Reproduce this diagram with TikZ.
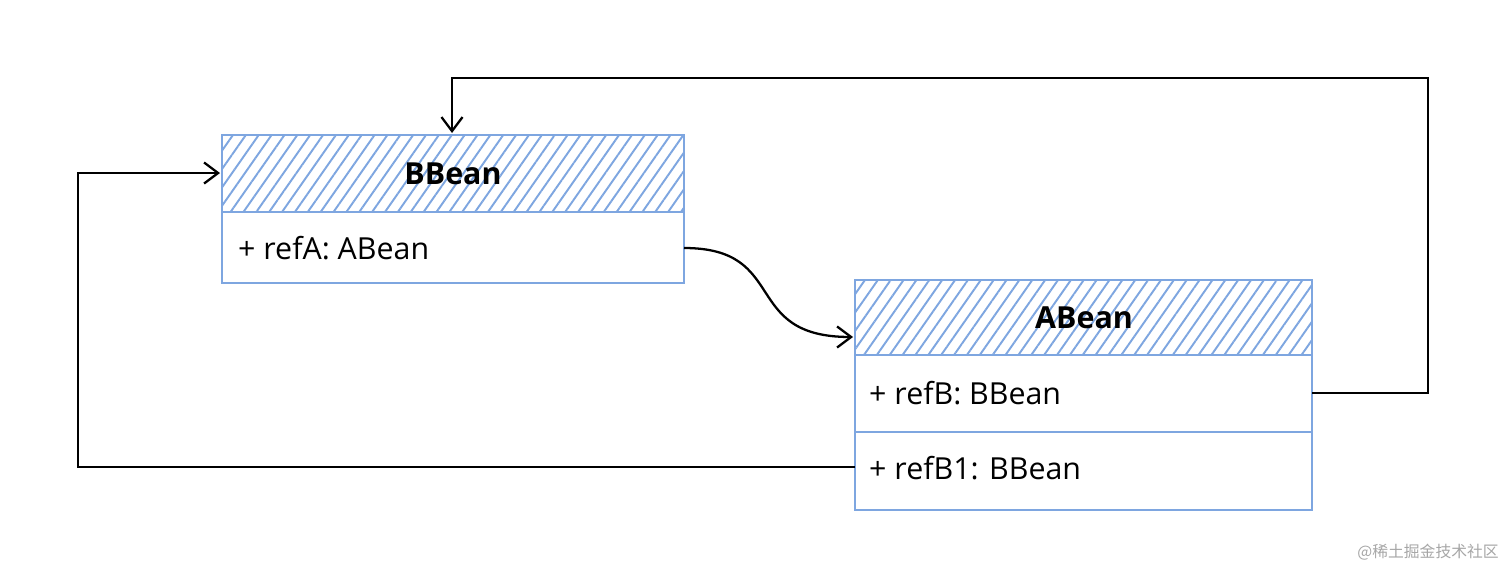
\documentclass[tikz,border=0pt]{standalone}
\usepackage{fontspec}
\setmainfont{Open Sans}
\newfontfamily\cjk{Noto Sans CJK SC}
\usetikzlibrary{patterns.meta,arrows.meta,positioning}
\definecolor{beanblue}{HTML}{7EA6E0}

\tikzset{
  head/.style={draw=beanblue, line width=1.4pt,
    pattern={Lines[angle=55, distance=6pt, line width=1.1pt]}, pattern color=beanblue},
  row/.style={draw=beanblue, line width=1.4pt},
  link/.style={line width=1.3pt, -{Straight Barb[length=8pt,width=12pt]}},
  wire/.style={line width=1.3pt}
}

\begin{document}
\begin{tikzpicture}[x=0.02cm,y=-0.02cm]
        \useasboundingbox (0,0) rectangle (1512,578);
        % BBean
        \draw[head] (222,135) rectangle (684,212);
        \draw[row] (222,212) rectangle (684,283);
        \node[font=\bfseries\LARGE] (bhead) at (453,174) {BBean};
        \node[font=\LARGE, anchor=west] (refA) at (232,248) {+ refA: ABean};
        \coordinate (bright) at (684,248);
        \coordinate (btop) at (452,133);
        \coordinate (bleft) at (220,173);
        % ABean
        \draw[head] (855,280) rectangle (1312,355);
        \draw[row] (855,355) rectangle (1312,432);
        \draw[row] (855,432) rectangle (1312,510);
        \node[font=\bfseries\LARGE] (ahead) at (1084,318) {ABean};
        \node[font=\LARGE, anchor=west] (refB) at (863,393) {+ refB: BBean};
        \node[font=\LARGE, anchor=west] (refBone) at (863,468) {+ refB1: BBean};
        \coordinate (aleft) at (853,337);
        \coordinate (bout) at (1312,393);
        \coordinate (bonein) at (855,467);
        % links
        \draw[link] (bright) .. controls (790,248) and (740,337) .. (aleft);
        \draw[link] (bout) -- (1428,393) -- (1428,78) -- (452,78) -- (btop);
        \draw[link] (bonein) -- (78,467) -- (78,173) -- (bleft);
        \node[font=\cjk\small, text=gray!70, anchor=east] (mark) at (1505,552) {@稀土掘金技术社区};
\end{tikzpicture}
\end{document}
